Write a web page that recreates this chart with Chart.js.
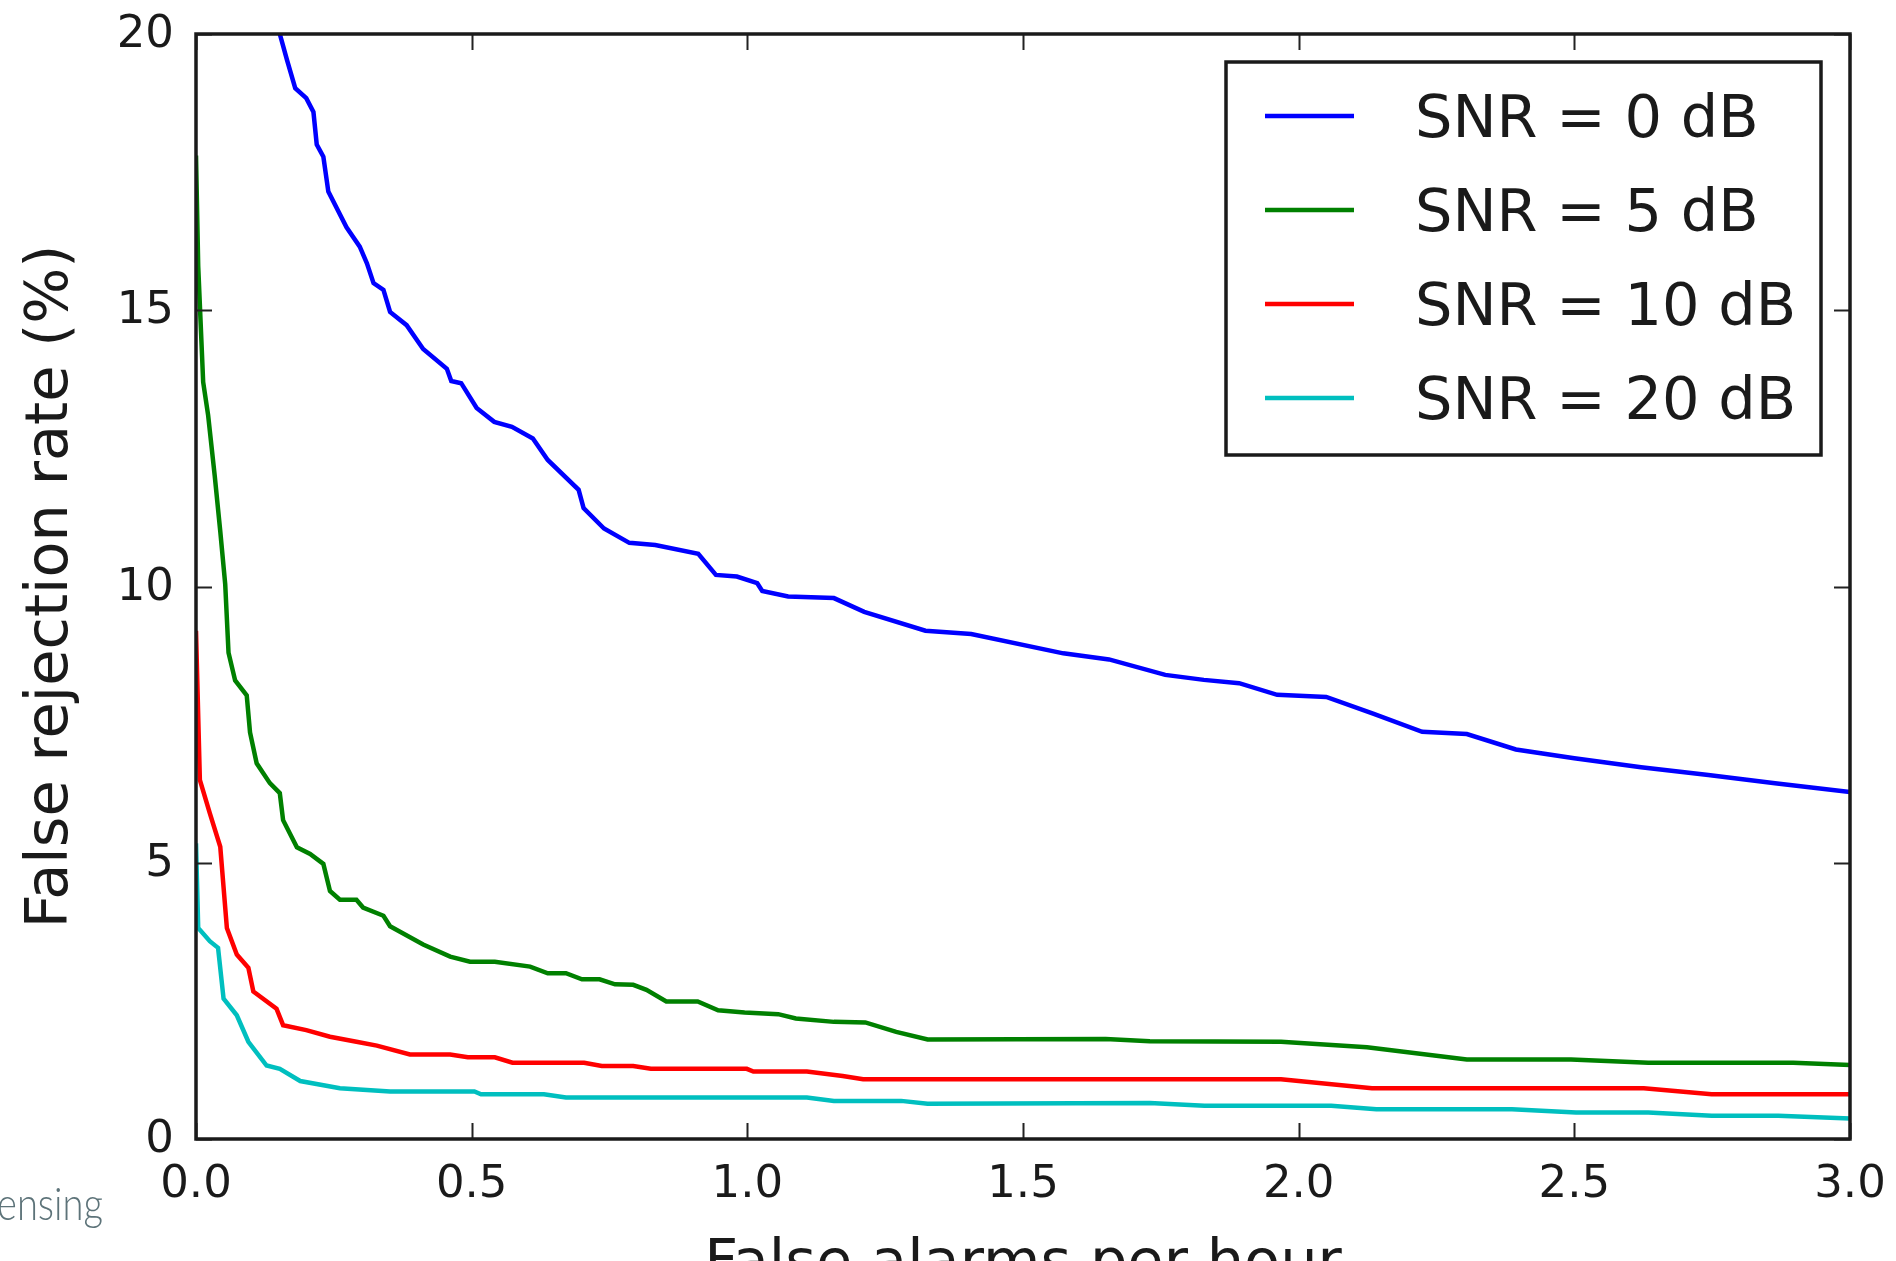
<!DOCTYPE html>
<html>
<head>
<meta charset="utf-8">
<script src="https://cdn.jsdelivr.net/npm/chart.js@4/dist/chart.umd.min.js"></script>
<style>
  html, body { margin: 0; padding: 0; background: #fff; overflow: hidden; }
  #wrap { width: 1896px; height: 1261px; }
</style>
</head>
<body>
<div id="wrap"><canvas id="frr"></canvas></div>
<script>
// values: [false alarms per hour, false rejection rate %]
const snr0 = [[0.152,20],[0.165,19.53],[0.18,19.02],[0.2,18.84],[0.213,18.59],[0.219,18.0],[0.231,17.78],[0.24,17.15],
  [0.273,16.5],[0.297,16.15],[0.31,15.85],[0.322,15.49],[0.34,15.37],[0.352,14.97],[0.382,14.73],[0.412,14.3],
  [0.455,13.94],[0.463,13.72],[0.481,13.68],[0.509,13.23],[0.541,12.98],[0.573,12.89],[0.611,12.68],[0.638,12.29],
  [0.694,11.75],[0.703,11.42],[0.74,11.05],[0.786,10.79],[0.833,10.75],[0.911,10.59],[0.943,10.21],[0.981,10.18],
  [1.018,10.06],[1.027,9.92],[1.074,9.82],[1.157,9.79],[1.212,9.54],[1.323,9.2],[1.406,9.14],[1.573,8.79],
  [1.656,8.68],[1.758,8.4],[1.828,8.31],[1.892,8.25],[1.961,8.04],[2.05,8.0],[2.135,7.7],[2.224,7.37],
  [2.305,7.33],[2.394,7.05],[2.5,6.89],[2.621,6.73],[2.743,6.59],[2.864,6.44],[3.0,6.28]];

const snr5 = [[0,17.8],[0.004,15.8],[0.013,13.7],[0.022,13.1],[0.034,12.0],[0.044,11.0],[0.053,10.04],[0.059,8.8],
  [0.071,8.3],[0.092,8.03],[0.098,7.36],[0.11,6.8],[0.134,6.44],[0.152,6.26],[0.158,5.77],[0.183,5.28],
  [0.207,5.16],[0.231,4.98],[0.243,4.49],[0.261,4.33],[0.291,4.33],[0.303,4.19],[0.34,4.04],[0.352,3.85],
  [0.412,3.52],[0.461,3.3],[0.497,3.21],[0.542,3.21],[0.606,3.12],[0.638,3.0],[0.671,3.0],[0.70,2.89],
  [0.732,2.89],[0.76,2.8],[0.793,2.79],[0.817,2.70],[0.853,2.49],[0.91,2.49],[0.947,2.33],[0.995,2.29],
  [1.056,2.26],[1.088,2.18],[1.157,2.12],[1.214,2.11],[1.27,1.94],[1.327,1.80],[1.65,1.81],[1.73,1.77],
  [1.968,1.76],[2.124,1.66],[2.305,1.44],[2.494,1.44],[2.634,1.38],[2.897,1.38],[3.0,1.34]];

const snr10 = [[0,9.2],[0.007,6.5],[0.025,5.9],[0.044,5.29],[0.056,3.82],[0.074,3.34],[0.095,3.1],[0.104,2.67],
  [0.146,2.36],[0.158,2.06],[0.2,1.97],[0.243,1.85],[0.291,1.76],[0.328,1.69],[0.388,1.53],[0.461,1.53],
  [0.493,1.48],[0.542,1.48],[0.574,1.38],[0.704,1.38],[0.736,1.32],[0.793,1.32],[0.825,1.27],[0.999,1.27],
  [1.011,1.22],[1.108,1.22],[1.173,1.14],[1.21,1.08],[1.968,1.08],[2.133,0.92],[2.626,0.92],[2.749,0.81],[3.0,0.81]];

const snr20 = [[0,5.35],[0.004,3.82],[0.025,3.58],[0.04,3.46],[0.05,2.54],[0.074,2.24],[0.095,1.76],[0.128,1.33],
  [0.152,1.27],[0.189,1.05],[0.261,0.92],[0.352,0.86],[0.505,0.86],[0.517,0.81],[0.631,0.81],[0.671,0.75],
  [1.108,0.75],[1.157,0.69],[1.279,0.69],[1.327,0.64],[1.73,0.65],[1.829,0.60],[2.059,0.60],[2.141,0.54],
  [2.387,0.54],[2.503,0.48],[2.634,0.48],[2.749,0.42],[2.87,0.42],[3.0,0.37]];

const seriesLabels = ['SNR = 0 dB', 'SNR = 5 dB', 'SNR = 10 dB', 'SNR = 20 dB'];
const seriesColors = ['#0000ff', '#008000', '#ff0000', '#00bfbf'];
const xTicks = [0, 0.5, 1.0, 1.5, 2.0, 2.5, 3.0];
const xTickLabels = ['0.0', '0.5', '1.0', '1.5', '2.0', '2.5', '3.0'];
const yTicks = [0, 5, 10, 15, 20];
const yTickLabels = ['0', '5', '10', '15', '20'];
const xTitle = 'False alarms per hour';
const yTitle = 'False rejection rate (%)';

const FONT = "'DejaVu Sans', sans-serif";
const INK = '#1a1a1a';
Chart.defaults.font.family = FONT;

function toPoints(arr) {
  return arr.map(p => ({ x: p[0], y: p[1] }));
}

const allSeries = [snr0, snr5, snr10, snr20];

// matplotlib look: frame, inward ticks on all sides, tick labels, legend box, titles
const mplLook = {
  id: 'mplLook',
  afterDraw(chart) {
    const ctx = chart.ctx;
    const a = chart.chartArea;
    const xs = chart.scales.x, ys = chart.scales.y;
    ctx.save();

    // ticks
    ctx.strokeStyle = '#222';
    ctx.lineWidth = 2;
    const tl = 16;
    ctx.beginPath();
    xTicks.forEach(v => {
      const px = Math.round(xs.getPixelForValue(v)) + 0.5;
      ctx.moveTo(px, a.bottom); ctx.lineTo(px, a.bottom - tl);
      ctx.moveTo(px, a.top); ctx.lineTo(px, a.top + tl);
    });
    yTicks.forEach(v => {
      const py = Math.round(ys.getPixelForValue(v)) + 0.5;
      ctx.moveTo(a.left, py); ctx.lineTo(a.left + tl, py);
      ctx.moveTo(a.right, py); ctx.lineTo(a.right - tl, py);
    });
    ctx.stroke();

    // frame
    ctx.lineWidth = 3.5;
    ctx.strokeStyle = INK;
    ctx.strokeRect(a.left, a.top, a.right - a.left, a.bottom - a.top);

    // tick labels
    ctx.fillStyle = INK;
    ctx.font = '45px ' + FONT;
    ctx.textBaseline = 'alphabetic';
    ctx.textAlign = 'center';
    xTicks.forEach((v, i) => {
      ctx.fillText(xTickLabels[i], xs.getPixelForValue(v), a.bottom + 58);
    });
    ctx.textAlign = 'right';
    yTicks.forEach((v, i) => {
      ctx.fillText(yTickLabels[i], a.left - 22, ys.getPixelForValue(v) + 13);
    });

    // legend
    const lx = 1226, ly = 62, lw = 595, lh = 393;
    ctx.fillStyle = '#fff';
    ctx.fillRect(lx, ly, lw, lh);
    ctx.lineWidth = 3.5;
    ctx.strokeRect(lx, ly, lw, lh);
    ctx.font = '59px ' + FONT;
    ctx.textAlign = 'left';
    seriesLabels.forEach((lab, i) => {
      const cy = 116 + i * 94;
      ctx.strokeStyle = seriesColors[i];
      ctx.lineWidth = 4.5;
      ctx.beginPath();
      ctx.moveTo(1265, cy); ctx.lineTo(1354, cy);
      ctx.stroke();
      ctx.fillStyle = INK;
      ctx.fillText(lab, 1415, cy + 21);
    });

    // axis titles
    ctx.fillStyle = INK;
    ctx.font = '59px ' + FONT;
    ctx.textAlign = 'center';
    ctx.fillText(xTitle, (a.left + a.right) / 2, 1281);
    ctx.save();
    ctx.translate(67, (a.top + a.bottom) / 2);
    ctx.rotate(-Math.PI / 2);
    ctx.fillText(yTitle, 0, 0);
    ctx.restore();

    // cut-off watermark text in the lower left corner
    ctx.fillStyle = '#5d7379';
    ctx.font = '300 46px Lato, sans-serif';
    ctx.textAlign = 'left';
    ctx.fillText('ensing', -3, 1220, 106);

    ctx.restore();
  }
};

new Chart(document.getElementById('frr'), {
  type: 'line',
  data: {
    datasets: allSeries.map((s, i) => ({
      label: seriesLabels[i],
      data: toPoints(s),
      borderColor: seriesColors[i],
      backgroundColor: seriesColors[i],
      borderWidth: 4.5,
      pointRadius: 0,
      tension: 0,
      fill: false
    }))
  },
  options: {
    responsive: true,
    maintainAspectRatio: false,
    animation: false,
    layout: { padding: { top: 34, right: 46, left: 0, bottom: 0 } },
    plugins: { legend: { display: false }, tooltip: { enabled: false } },
    scales: {
      x: {
        type: 'linear',
        min: 0, max: 3,
        afterBuildTicks: s => { s.ticks = xTicks.map(v => ({ value: v })); },
        afterFit: s => { s.height = 122; },
        grid: { display: false, drawTicks: false },
        border: { display: false },
        ticks: { display: false }
      },
      y: {
        type: 'linear',
        min: 0, max: 20,
        afterBuildTicks: s => { s.ticks = yTicks.map(v => ({ value: v })); },
        afterFit: s => { s.width = 196; },
        grid: { display: false, drawTicks: false },
        border: { display: false },
        ticks: { display: false }
      }
    }
  },
  plugins: [mplLook]
});
</script>
</body>
</html>
